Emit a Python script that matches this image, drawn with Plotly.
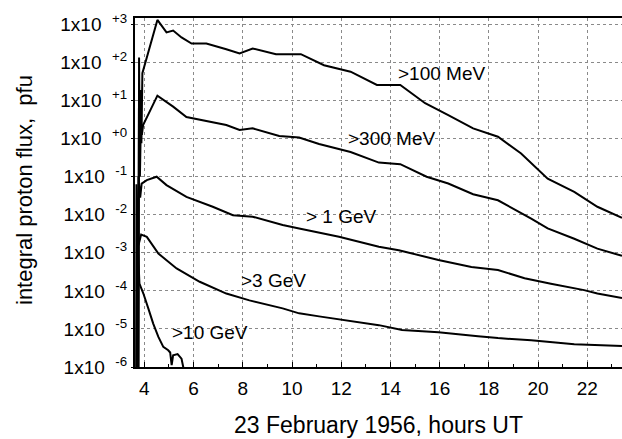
import plotly.graph_objects as go

# ---- data (hours UT, 23 Feb 1956; integral proton flux in pfu, stored as log10) ----
hours_100mev = [3.76, 3.785, 3.81, 3.85, 3.88, 3.92, 4.53, 4.90, 5.17, 5.51, 5.92, 6.52, 7.33, 7.87,
                8.40, 8.95, 9.35, 10.36, 11.30, 12.38, 13.45, 14.40, 15.41, 16.35, 17.36, 18.37,
                19.31, 20.39, 21.47, 22.41, 23.41]
log_100mev = [-8, 2.13, -0.30, 1.28, -0.12, 1.72, 3.12, 2.79, 2.84, 2.66, 2.50, 2.50, 2.35, 2.24,
              2.37, 2.28, 2.22, 2.22, 1.93, 1.76, 1.41, 1.41, 0.93, 0.62, 0.27, 0.05,
              -0.39, -1.05, -1.40, -1.79, -2.08]

hours_300mev = [3.74, 3.78, 3.82, 3.86, 3.90, 3.95, 4.53, 5.17, 5.71, 6.52, 7.33, 7.87, 8.40, 9.48, 10.29,
                11.10, 12.38, 13.53, 14.40, 15.47, 16.35, 17.36, 18.37, 19.72, 20.39, 21.47, 22.41, 23.41]
log_300mev = [-8, 0.80, -1.00, 0.50, 0.10, 0.36, 1.13, 0.84, 0.57, 0.47, 0.36, 0.23, 0.27, 0.07, 0.03,
              -0.14, -0.35, -0.63, -0.67, -1.00, -1.18, -1.46, -1.62, -2.10, -2.36, -2.63, -2.89, -3.08]

hours_1gev = [3.72, 3.76, 3.83, 3.89, 4.10, 4.50, 4.90, 5.71, 6.78, 7.60, 8.40, 9.62, 10.29, 11.91,
              13.53, 14.34, 15.95, 17.29, 18.37, 19.45, 20.52, 21.87, 22.41, 23.41]
log_1gev = [-8, -1.00, -1.55, -1.18, -1.09, -1.00, -1.22, -1.53, -1.79, -2.01, -2.05, -2.27, -2.36, -2.58,
            -2.84, -2.93, -3.19, -3.37, -3.45, -3.67, -3.81, -3.98, -4.07, -4.19]

hours_3gev = [3.66, 3.68, 3.76, 3.87, 4.10, 4.57, 5.31, 6.25, 7.33, 8.27, 9.62, 10.29, 11.10, 11.91, 13.53, 14.47,
              15.95, 17.56, 18.37, 19.72, 21.47, 23.41]
log_3gev = [-8, -1.20, -2.80, -2.52, -2.58, -3.02, -3.41, -3.76, -4.07, -4.25, -4.46, -4.59, -4.67, -4.75, -4.90, -5.03,
            -5.09, -5.19, -5.24, -5.30, -5.40, -5.45]

hours_10gev = [3.70, 3.72, 3.80, 3.96, 4.16, 4.36, 4.57, 4.77, 4.97, 5.05, 5.11, 5.17, 5.35, 5.51, 5.58, 5.62]
log_10gev = [-8, -2.60, -3.81, -4.07, -4.46, -4.86, -5.21, -5.47, -5.56, -5.62, -5.95, -5.69, -5.66, -5.78, -6.0, -6.5]

series_labels = [">100 MeV", ">300 MeV", "> 1 GeV", ">3 GeV", ">10 GeV"]
label_hours = [16.08, 14.05, 12.02, 9.24, 6.67]
label_logs = [1.72, 0.0, -2.04, -3.72, -5.10]

x_tickvals = [4, 6, 8, 10, 12, 14, 16, 18, 20, 22]
y_exponents = [-6, -5, -4, -3, -2, -1, 0, 1, 2, 3]
y_ticktext = ["1x10\u00a0\u00a0<sup>%s</sup>" % (("+%d" % e) if e >= 0 else ("%d" % e)) for e in y_exponents]
x_title = "23 February 1956, hours UT"
y_title = "integral proton flux,  pfu"

FONT = "Liberation Sans, Arimo, Arial, sans-serif"

fig = go.Figure()
all_series = [(hours_100mev, log_100mev), (hours_300mev, log_300mev), (hours_1gev, log_1gev),
              (hours_3gev, log_3gev), (hours_10gev, log_10gev)]
for (hx, lg), name in zip(all_series, series_labels):
    fig.add_trace(go.Scatter(x=hx, y=[10 ** v for v in lg], mode="lines", name=name,
                             line=dict(color="black", width=2), showlegend=False, cliponaxis=True))

for txt, hx, lg in zip(series_labels, label_hours, label_logs):
    fig.add_annotation(x=hx, y=lg, text=txt, showarrow=False, xref="x", yref="y",
                       font=dict(family=FONT, size=19, color="black"))

# y-axis title placed as a rotated annotation to match the original position
fig.add_annotation(text=y_title, xref="paper", yref="paper", x=(24 - 135) / 487, y=(367 - 190) / 349,
                   textangle=-90, showarrow=False, xanchor="center", yanchor="middle",
                   font=dict(family=FONT, size=22, color="black"))

fig.update_layout(
    width=622, height=439,
    margin=dict(l=135, r=0, t=18, b=72, autoexpand=False),
    paper_bgcolor="white", plot_bgcolor="white",
    font=dict(family=FONT, size=19, color="black"),
)
fig.update_xaxes(
    range=[3.62, 23.41], tickvals=x_tickvals, ticks="inside", ticklen=5, tickwidth=1, tickcolor="black",
    minor=dict(dtick=1, tick0=3, ticks="inside", ticklen=3, tickcolor="black", showgrid=False),
    showgrid=True, gridcolor="#8a8a8a", gridwidth=1, griddash="3px,3px",
    showline=True, linecolor="black", linewidth=2, mirror=True, zeroline=False, automargin=False,
    tickfont=dict(family=FONT, size=19), ticklabelstandoff=3,
    title=dict(text=x_title, font=dict(family=FONT, size=23), standoff=19),
)
fig.update_yaxes(
    type="log", range=[-6, 3.17], tickvals=[10 ** e for e in y_exponents], ticktext=y_ticktext,
    ticks="outside", ticklen=2, tickcolor="black",
    showgrid=True, gridcolor="#8a8a8a", gridwidth=1, griddash="3px,3px",
    showline=True, linecolor="black", linewidth=2, mirror=False, zeroline=False, automargin=False,
    tickfont=dict(family=FONT, size=19),
)
fig.write_html("out.html", include_plotlyjs=True, config={"displayModeBar": False},
               post_script="document.body.style.margin='0px';document.body.style.overflow='hidden';")
